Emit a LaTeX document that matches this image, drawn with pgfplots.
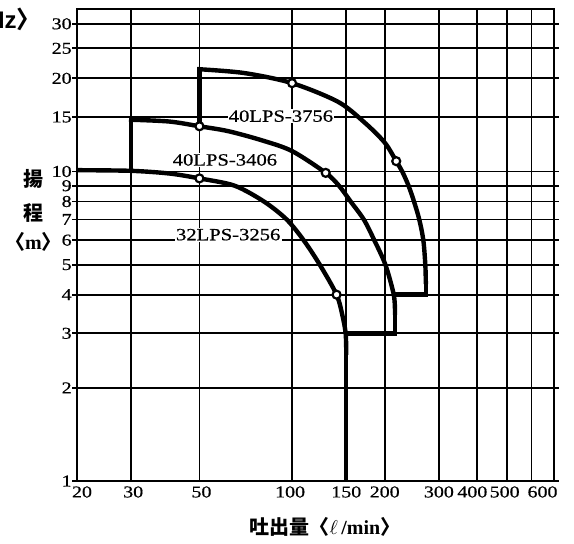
\documentclass[border=0pt]{standalone}
\usepackage{fontspec}
\usepackage{pgfplots}
\pgfplotsset{compat=1.18}
\setmainfont{Liberation Serif}
\newfontfamily\tickfont{Liberation Serif}[FakeStretch=1.2, FakeBold=0.6]
\newfontfamily\cjk{Noto Sans CJK JP}
\newfontfamily\hzfont{Liberation Sans}
\newcommand\sh[2]{\makebox[0pt]{\hspace*{#1}\hspace*{#1}#2}}
\newcommand\tf{\tickfont\fontsize{8.3}{8.3}\selectfont}
\newcommand\lf{\tickfont\fontsize{8.6}{8.6}\selectfont}
\begin{document}
\begin{tikzpicture}
\begin{axis}[
  at={(0,0)}, anchor=south west,
  scale only axis, width=238.5pt, height=236pt,
  xmode=log, ymode=log,
  xmin=20, xmax=710, ymin=1, ymax=33.5,
  xtick={20,30,50,100,150,200,300,400,500,600},
  xticklabels={\sh{2.5pt}{20},\sh{1pt}{30},\sh{1pt}{50},\sh{-1pt}{100},150,200,300,\sh{-2.5pt}{400},\sh{-1.25pt}{500},\sh{5.5pt}{600}},
  ytick={1,2,3,4,5,6,7,8,9,10,15,20,25,30},
  yticklabels={1,2,3,4,5,6,7,8,9,10,15,20,25,30},
  minor xtick={}, minor ytick={},
  grid=major, major grid style={black, line width=0.9pt},
  axis line style={black, line width=1.1pt},
  tick align=outside, major tick length=2.5pt,
  xtick style={draw=none},
  ytick style={black, line width=0.9pt},
  xticklabel style={font=\tf, inner sep=0pt},
  yticklabel style={font=\tf, inner sep=0pt},
]
% 32LPS-3256
\addplot[black, line width=2.2pt, line cap=rect, smooth, tension=0.5] coordinates {
(20,10.1) (30,10.05) (40,9.85) (50,9.5) (65,9.0) (81,8.0) (96,7.0) (109,6.0) (123,5.0) (139.5,4.0) (146,3.4) (149.3,3.0) (150,2.6)};
\addplot[black, line width=2.2pt, line cap=rect] coordinates {(150,2.6) (150,1)};
% 40LPS-3406
\addplot[black, line width=2.2pt, line cap=rect] coordinates {(30,10.05) (30,14.7)};
\addplot[black, line width=2.2pt, line cap=rect, smooth, tension=0.5] coordinates {
(30,14.7) (40,14.5) (50,14.0) (62,13.5) (80,12.6) (100,11.64) (128.6,9.9) (142,9.0) (155,8.0) (171,7.0) (185,6.0) (201,5.0) (214,4.0) (216,3.5)};
\addplot[black, line width=2.2pt, line cap=rect, line join=miter] coordinates {(216,3.5) (216,3.0) (150,3.0)};
% 40LPS-3756
\addplot[black, line width=2.2pt, line cap=rect] coordinates {(50,14.0) (50,21.4)};
\addplot[black, line width=2.2pt, line cap=rect, smooth, tension=0.5] coordinates {
(50,21.4) (70,20.8) (100,19.3) (141,16.8) (172,14.4) (200,12.4) (218,10.8) (228,10) (239,9) (249,8) (259,7) (267,6) (271,5) (272,4.4)};
\addplot[black, line width=2.2pt, line cap=rect, line join=miter] coordinates {(272,4.4) (272,4.0) (216,4.0)};
% duty points
\addplot[only marks, mark=*, mark size=2pt, mark options={fill=white, draw=black, line width=1.1pt}] coordinates {
(50,9.5) (139.5,4.0) (50,14.0) (128.6,9.9) (100,19.3) (218,10.8)};
\node[fill=white, inner sep=0.6pt, font=\lf] at (axis cs:92,15.1) {40LPS-3756};
\node[fill=white, inner sep=0.6pt, font=\lf] at (axis cs:60.5,10.9) {40LPS-3406};
\node[fill=white, inner sep=0.6pt, font=\lf] at (axis cs:62,6.25) {32LPS-3256};
\end{axis}
\node[font=\cjk\bfseries\fontsize{10}{10}\selectfont] at (-21.5pt,151pt) {揚};
\node[font=\cjk\bfseries\fontsize{10}{10}\selectfont] at (-21.5pt,134pt) {程};
\node[inner sep=0pt] at (-21.75pt,119.5pt) {{\cjk\bfseries\fontsize{10}{10}\selectfont 〈}{\bfseries\fontsize{10}{10}\selectfont m}{\cjk\bfseries\fontsize{10}{10}\selectfont 〉}};
\node[inner sep=0pt] at (124pt,-23pt) {{\cjk\bfseries\fontsize{10}{10}\selectfont 吐出量〈}{\bfseries\fontsize{10}{10}\selectfont$\ell$\,/min}{\cjk\bfseries\fontsize{10}{10}\selectfont 〉}};
\node[anchor=east, inner sep=0pt] at (-18pt,231pt) {{\hzfont\bfseries\fontsize{12}{12}\selectfont 60Hz}{\cjk\bfseries\fontsize{12}{12}\selectfont 〉}};
\pgfresetboundingbox
\path[use as bounding box] (-38.5pt,-31pt) rectangle (248.5pt,240.5pt);
\end{tikzpicture}
\end{document}
